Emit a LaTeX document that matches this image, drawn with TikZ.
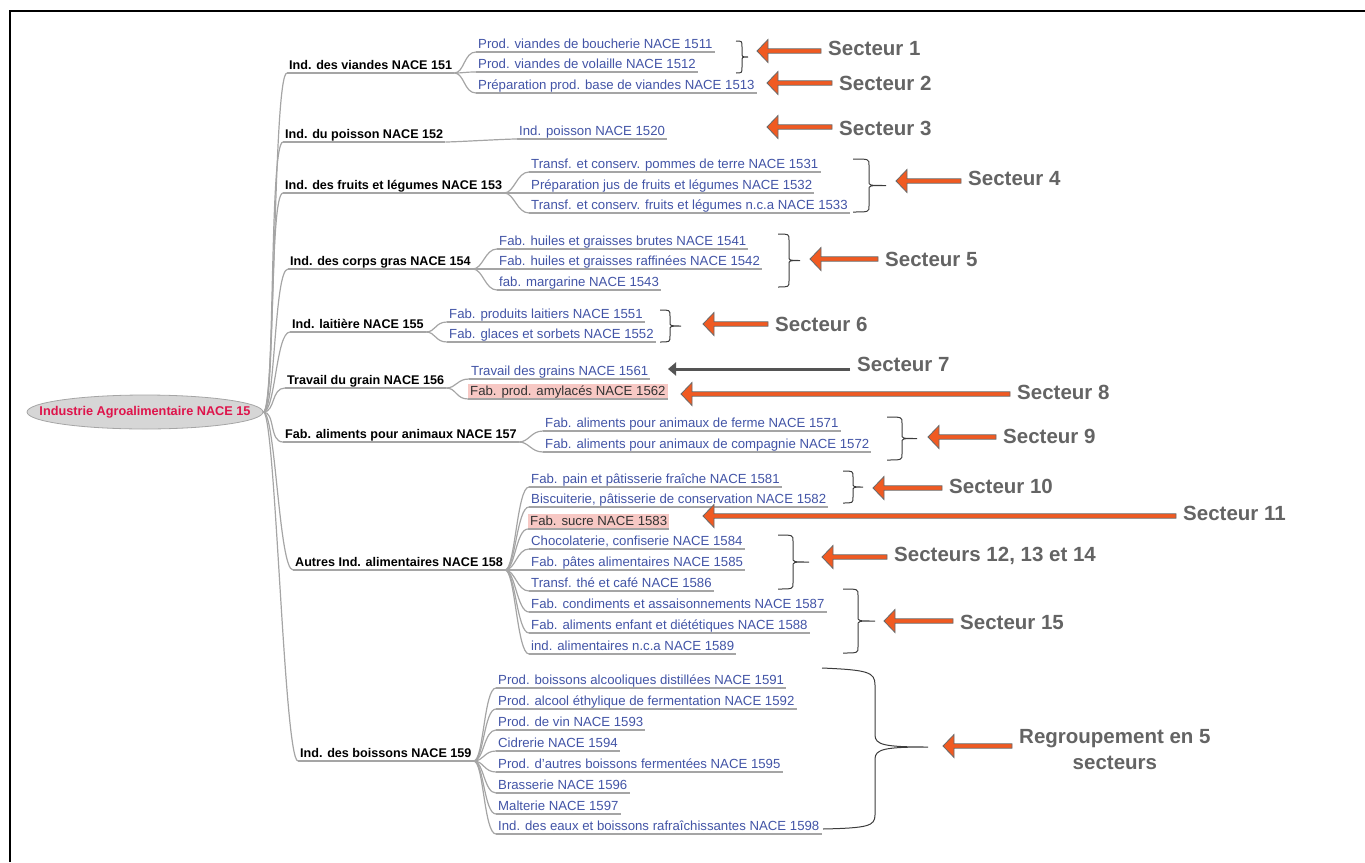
\documentclass[tikz,border=0pt]{standalone}
\usepackage{fontspec}
\setmainfont{Liberation Sans}
\usetikzlibrary{shapes.geometric,calc,arrows.meta}
\definecolor{leafblue}{RGB}{66,84,166}
\definecolor{pinkbg}{RGB}{247,200,196}
\definecolor{darktext}{RGB}{50,50,50}
\definecolor{conngray}{RGB}{165,165,165}
\definecolor{labgray}{RGB}{100,100,100}
\definecolor{arrowor}{RGB}{240,90,34}
\definecolor{arrowgr}{RGB}{105,105,105}
\definecolor{bracegray}{RGB}{60,60,60}
\definecolor{rootfill}{RGB}{214,214,214}
\definecolor{rootred}{RGB}{222,20,75}
\newcommand{\leaffont}{\fontsize{13.2}{15}\selectfont}
\newcommand{\lonefont}{\fontsize{12.6}{15}\selectfont\bfseries}
\newcommand{\rootfont}{\fontsize{12.7}{15}\selectfont\bfseries}
\newcommand{\labfont}{\fontsize{20.5}{26}\selectfont\bfseries}
\newcommand{\sectarrow}[2]{\filldraw[oarr] (#2) -- ++(11,-11.5) -- ++(0,9.3) -- ($(#1.west |- #2)+(0,-2.2)$) -- ++(0,4.4) -- ($(#2)+(11,2.2)$) -- ++(0,9.3) -- cycle;}
\newcommand{\sbrace}[5]{\draw[bracestyle] (#1,#4) .. controls (#2,#4) .. (#2,{#4+6}) -- (#2,{(#4+#5)/2-4}) .. controls (#2,{(#4+#5)/2}) .. (#3,{(#4+#5)/2}) .. controls (#2,{(#4+#5)/2}) .. (#2,{(#4+#5)/2+4}) -- (#2,{#5-6}) .. controls (#2,#5) .. (#1,#5);}
\begin{document}
\begin{tikzpicture}[x=1pt,y=-1pt,
  leaf/.style={anchor=south west, inner xsep=2pt, inner ysep=0.5pt, text height=10.5pt, text depth=3pt, font=\leaffont, text=leafblue},
  pinkleaf/.style={leaf, fill=pinkbg, text=darktext},
  lone/.style={anchor=south west, inner xsep=2pt, inner ysep=0.5pt, text height=10.5pt, text depth=3pt, font=\lonefont, text=black},
  rootnode/.style={ellipse, draw=conngray, fill=rootfill, line width=0.8pt, minimum width=236pt, minimum height=34pt, inner xsep=-30pt, inner ysep=-5pt, font=\rootfont, text=rootred},
  lab/.style={anchor=west, inner xsep=7pt, inner ysep=0pt, text height=15pt, text depth=0pt, font=\labfont, text=labgray},
  labbig/.style={anchor=west, inner xsep=7pt, inner ysep=0pt, font=\labfont, text=labgray, align=center},
  conn/.style={draw=conngray, line width=1.2pt},
  bracestyle/.style={draw=bracegray, line width=1pt},
  oarr/.style={fill=arrowor, draw=arrowgr, line width=0.8pt, line join=miter},
  garr/.style={draw=arrowgr!80!black, line width=3pt, -{Triangle[length=8pt,width=13pt]}}
]
\useasboundingbox (0,0) rectangle (1365,862);
\draw[line width=2.7pt] (10,862) -- (10,11) -- (1365,11);

% root
\node[rootnode] (root) at (145,412) {Industrie Agroalimentaire NACE 15};

% level 1
\node[lone] (a1) at (287,73) {Ind. des viandes NACE 151};
\node[lone] (a2) at (283,142) {Ind. du poisson NACE 152};
\node[lone] (a3) at (283,193) {Ind. des fruits et légumes NACE 153};
\node[lone] (a4) at (288,269) {Ind. des corps gras NACE 154};
\node[lone] (a5) at (290,332) {Ind. laitière NACE 155};
\node[lone] (a6) at (285,388) {Travail du grain NACE 156};
\node[lone] (a7) at (283,442) {Fab. aliments pour animaux NACE 157};
\node[lone] (a8) at (293,570) {Autres Ind. alimentaires NACE 158};
\node[lone] (a9) at (298,761) {Ind. des boissons NACE 159};

% leaves
\node[leaf] (n1511) at (476,52) {Prod. viandes de boucherie NACE 1511};
\node[leaf] (n1512) at (476,72) {Prod. viandes de volaille NACE 1512};
\node[leaf] (n1513) at (476,93) {Préparation prod. base de viandes NACE 1513};
\node[leaf] (n1520) at (517,139) {Ind. poisson NACE 1520};
\node[leaf] (n1531) at (529,172) {Transf. et conserv. pommes de terre NACE 1531};
\node[leaf] (n1532) at (529,193) {Préparation jus de fruits et légumes NACE 1532};
\node[leaf] (n1533) at (529,213) {Transf. et conserv. fruits et légumes n.c.a NACE 1533};
\node[leaf] (n1541) at (497,249) {Fab. huiles et graisses brutes NACE 1541};
\node[leaf] (n1542) at (497,269) {Fab. huiles et graisses raffinées NACE 1542};
\node[leaf] (n1543) at (497,290) {fab. margarine NACE 1543};
\node[leaf] (n1551) at (447,322) {Fab. produits laitiers NACE 1551};
\node[leaf] (n1552) at (447,342) {Fab. glaces et sorbets NACE 1552};
\node[leaf] (n1561) at (469,379) {Travail des grains NACE 1561};
\node[pinkleaf] (n1562) at (468,399) {Fab. prod. amylacés NACE 1562};
\node[leaf] (n1571) at (543,431) {Fab. aliments pour animaux de ferme NACE 1571};
\node[leaf] (n1572) at (543,452) {Fab. aliments pour animaux de compagnie NACE 1572};
\node[leaf] (n1581) at (529,487) {Fab. pain et pâtisserie fraîche NACE 1581};
\node[leaf] (n1582) at (529,507) {Biscuiterie, pâtisserie de conservation NACE 1582};
\node[pinkleaf] (n1583) at (528,529) {Fab. sucre NACE 1583};
\node[leaf] (n1584) at (529,549) {Chocolaterie, confiserie NACE 1584};
\node[leaf] (n1585) at (529,570) {Fab. pâtes alimentaires NACE 1585};
\node[leaf] (n1586) at (529,591) {Transf. thé et café NACE 1586};
\node[leaf] (n1587) at (529,612) {Fab. condiments et assaisonnements NACE 1587};
\node[leaf] (n1588) at (529,633) {Fab. aliments enfant et diététiques NACE 1588};
\node[leaf] (n1589) at (529,654) {ind. alimentaires n.c.a NACE 1589};
\node[leaf] (n1591) at (496,688) {Prod. boissons alcooliques distillées NACE 1591};
\node[leaf] (n1592) at (496,709) {Prod. alcool éthylique de fermentation NACE 1592};
\node[leaf] (n1593) at (496,730) {Prod. de vin NACE 1593};
\node[leaf] (n1594) at (496,751) {Cidrerie NACE 1594};
\node[leaf] (n1595) at (496,772) {Prod. d'autres boissons fermentées NACE 1595};
\node[leaf] (n1596) at (496,793) {Brasserie NACE 1596};
\node[leaf] (n1597) at (496,814) {Malterie NACE 1597};
\node[leaf] (n1598) at (496,834) {Ind. des eaux et boissons rafraîchissantes NACE 1598};

% connectors root -> level 1
\foreach \c in {a1,a2,a3,a4,a5,a6,a7,a8,a9}
  \draw[conn] (root.east) .. controls +(12,0) and +(-14,0) .. (\c.south west);
% underlines
\foreach \n in {a1,a2,a3,a4,a5,a6,a7,a8,a9,n1511,n1512,n1513,n1520,n1531,n1532,n1533,n1541,n1542,n1543,n1551,n1552,n1561,n1562,n1571,n1572,n1581,n1582,n1583,n1584,n1585,n1586,n1587,n1588,n1589,n1591,n1592,n1593,n1594,n1595,n1596,n1597,n1598}
  \draw[conn] (\n.south west) -- (\n.south east);
% connectors level 1 -> leaves
\foreach \p/\c in {a1/n1511,a1/n1512,a1/n1513,a2/n1520,a3/n1531,a3/n1532,a3/n1533,a4/n1541,a4/n1542,a4/n1543,a5/n1551,a5/n1552,a6/n1561,a6/n1562,a7/n1571,a7/n1572,a8/n1581,a8/n1582,a8/n1583,a8/n1584,a8/n1585,a8/n1586,a8/n1587,a8/n1588,a8/n1589,a9/n1591,a9/n1592,a9/n1593,a9/n1594,a9/n1595,a9/n1596,a9/n1597,a9/n1598}
  \draw[conn] (\p.south east) .. controls +(10,0) and +(-12,0) .. (\c.south west);

% braces
\sbrace{736}{742}{748}{41}{73}
\sbrace{853}{869}{886}{159}{212}
\sbrace{778}{789}{800}{234}{287}
\sbrace{660}{670}{681}{310}{342}
\sbrace{887}{902}{917}{417}{460}
\sbrace{843}{853}{863}{471}{503}
\sbrace{778}{793}{809}{535}{589}
\sbrace{843}{858}{875}{589}{653}
\draw[bracestyle] (822,668) .. controls (868,670) and (875,672) .. (875,685) -- (875,735) .. controls (875,745) and (885,747) .. (928,747) .. controls (885,747) and (875,749) .. (875,759) -- (875,815) .. controls (875,826) and (868,828) .. (823,829);

% sector labels
\node[lab] (s1) at (821,48) {Secteur 1};
\node[lab] (s2) at (832,83) {Secteur 2};
\node[lab] (s3) at (832,128) {Secteur 3};
\node[lab] (s4) at (961,178) {Secteur 4};
\node[lab] (s5) at (878,259) {Secteur 5};
\node[lab] (s6) at (768,324) {Secteur 6};
\node[lab] (s7) at (850,364) {Secteur 7};
\node[lab] (s8) at (1010,392) {Secteur 8};
\node[lab] (s9) at (996,436) {Secteur 9};
\node[lab] (s10) at (942,486) {Secteur 10};
\node[lab] (s11) at (1176,513) {Secteur 11};
\node[lab] (s12) at (887,554) {Secteurs 12, 13 et 14};
\node[lab] (s15) at (953,622) {Secteur 15};
\node[labbig] (sb) at (1012,750) {Regroupement en 5\\secteurs};

% arrow tips
\coordinate (t1) at (757,51);
\coordinate (t2) at (767,83);
\coordinate (t3) at (767,127);
\coordinate (t4) at (896,181);
\coordinate (t5) at (810,259);
\coordinate (t6) at (703,324);
\coordinate (t7) at (668,369);
\coordinate (t8) at (681,394);
\coordinate (t9) at (928,437);
\coordinate (t10) at (873,488);
\coordinate (t11) at (703,516);
\coordinate (t12) at (822,557);
\coordinate (t15) at (884,621);
\coordinate (tb) at (943,746);

\sectarrow{s1}{t1}
\sectarrow{s2}{t2}
\sectarrow{s3}{t3}
\sectarrow{s4}{t4}
\sectarrow{s5}{t5}
\sectarrow{s6}{t6}
\sectarrow{s8}{t8}
\sectarrow{s9}{t9}
\sectarrow{s10}{t10}
\sectarrow{s11}{t11}
\sectarrow{s12}{t12}
\sectarrow{s15}{t15}
\sectarrow{sb}{tb}
\draw[garr] (s7.west |- t7) -- (t7);
\end{tikzpicture}
\end{document}
